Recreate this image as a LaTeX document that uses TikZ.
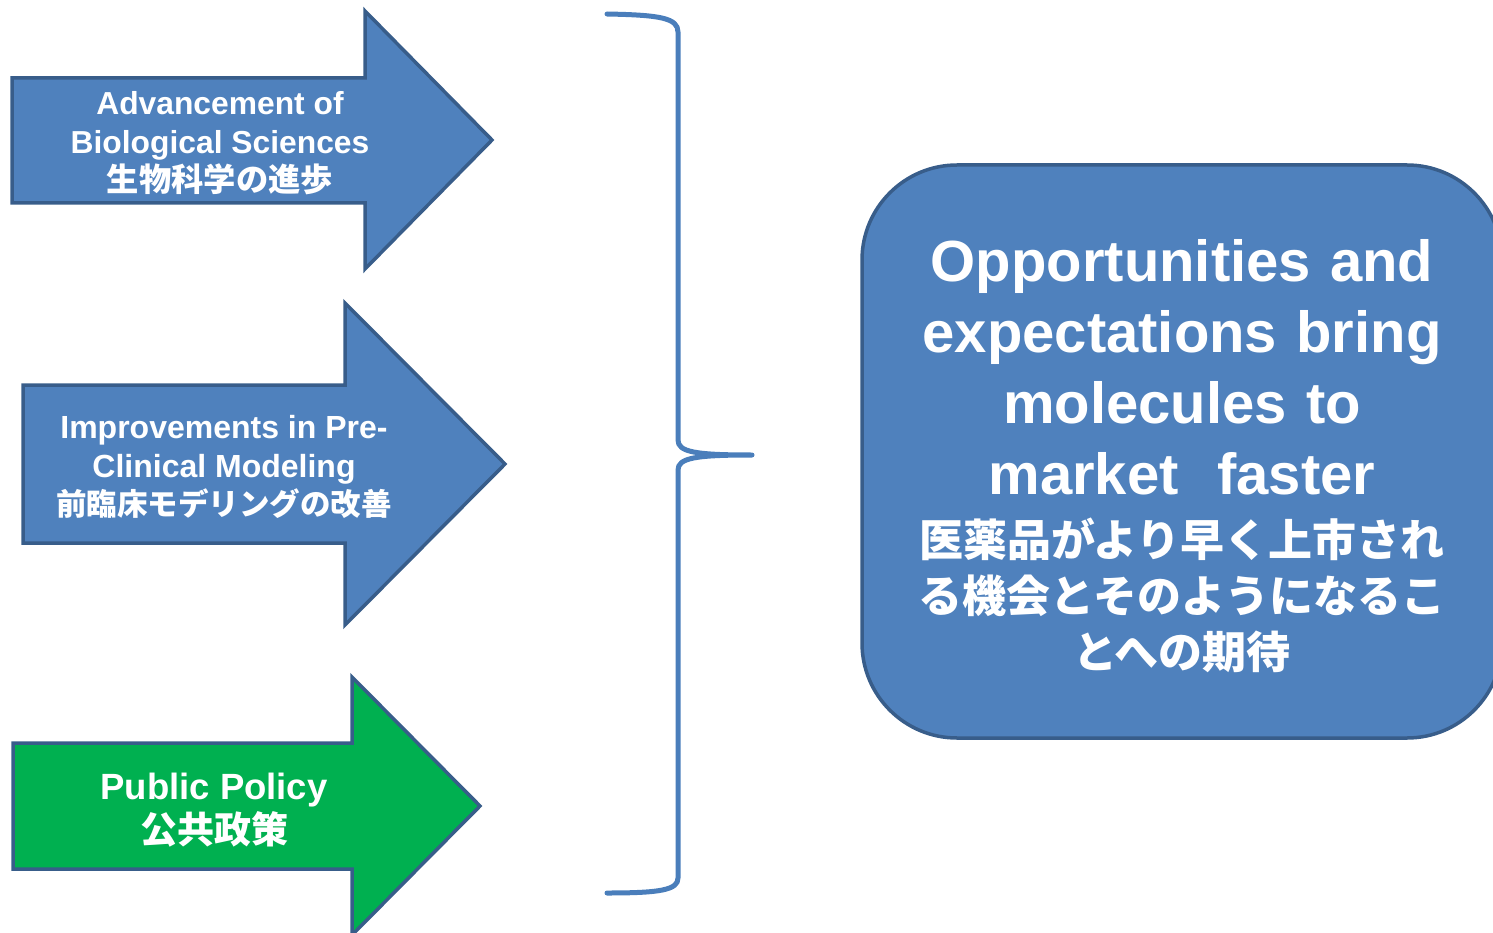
\documentclass[tikz,border=0pt]{standalone}
\usepackage{fontspec}
\setmainfont{Liberation Sans}[BoldFont={Liberation Sans Bold}]
\newfontfamily\jpfont{Noto Sans CJK JP Bold}
\definecolor{accent}{HTML}{4F81BD}
\definecolor{accentline}{HTML}{385D8A}
\definecolor{bracecol}{HTML}{4A7EBB}
\definecolor{policy}{HTML}{00B050}
\tikzset{
  bigarrow/.style={draw=accentline, line width=3.5pt, miter limit=10},
  arrowtext/.style={text=white, align=center, inner sep=0pt},
  goalbox/.style={draw=accentline, fill=accent, line width=3.5pt,
    rounded corners=95pt, minimum width=640pt, minimum height=573pt,
    text width=600pt, align=center, text=white, inner sep=0pt},
  bracestroke/.style={draw=bracecol, line width=5pt, line cap=round, line join=round}
}
\begin{document}
\begin{tikzpicture}[x=1pt, y=-1pt]
  \useasboundingbox (0,0) rectangle (1493,933);

  % three driving forces
  \path[bigarrow, fill=accent]
    (12,78) -- (365,78) -- (365,11) -- (492,140) -- (365,269) -- (365,203) -- (12,203) -- cycle;
  \node[arrowtext, font=\bfseries\fontsize{31.8}{38.5}\selectfont] (bio) at (220,143.5)
    {Advancement of\\Biological Sciences\\{\jpfont\fontsize{32.3}{38.5}\selectfont 生物科学の進歩}};

  \path[bigarrow, fill=accent]
    (23,385) -- (345,385) -- (345,303) -- (505,464) -- (345,625) -- (345,543) -- (23,543) -- cycle;
  \node[arrowtext, font=\bfseries\fontsize{32}{38.5}\selectfont] (preclin) at (224,467)
    {Improvements in Pre-\\Clinical Modeling\\{\jpfont\fontsize{30.5}{38.5}\selectfont 前臨床モデリングの改善}};

  \path[bigarrow, fill=policy]
    (13,743) -- (352,743) -- (352,677) -- (480,806) -- (352,935) -- (352,869) -- (13,869) -- cycle;
  \node[arrowtext, font=\bfseries\fontsize{36.5}{44}\selectfont] (policy) at (214,810)
    {Public Policy\\{\jpfont\fontsize{37}{44}\selectfont 公共政策}};

  % gathering brace
  \coordinate (bracetop) at (607,14);
  \coordinate (bracebot) at (607,893);
  \coordinate (bracetip) at (752,455);
  \path[bracestroke]
    (bracetop) .. controls (660,15) and (678,18) .. (678,32)
    -- (678,440) .. controls (678,452) and (695,455) .. (bracetip)
    .. controls (695,455) and (678,458) .. (678,470)
    -- (678,878) .. controls (678,890) and (660,893) .. (bracebot);

  % outcome
  \node[goalbox, font=\bfseries\fontsize{58}{71}\selectfont] (goal) at (1182,451.5)
    {\rule{0pt}{51pt}Opportunities and\\expectations bring\\molecules to\\market\ \ faster\par
     \vspace{6pt}\jpfont\fontsize{44}{56}\selectfont 医薬品がより早く上市され\\る機会とそのようになるこ\\とへの期待\par};
\end{tikzpicture}
\end{document}
